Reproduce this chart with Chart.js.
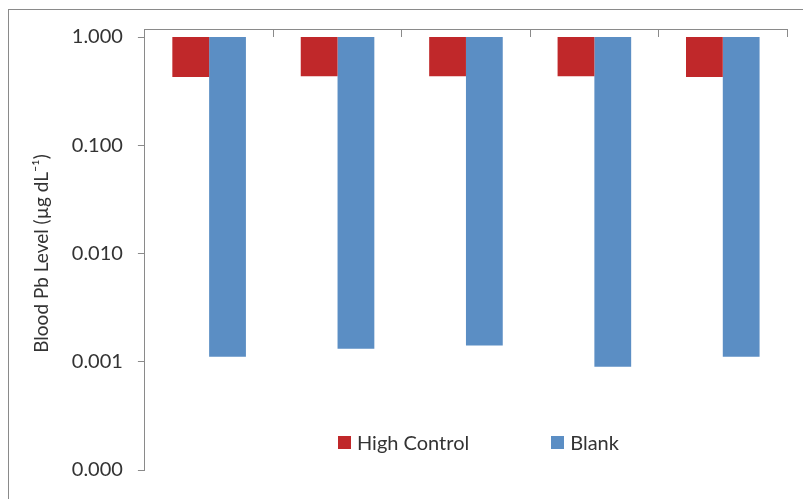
<!DOCTYPE html>
<html>
<head>
<meta charset="utf-8">
<script src="https://cdn.jsdelivr.net/npm/chart.js@4/dist/chart.umd.min.js"></script>
<style>
  html, body { margin: 0; padding: 0; background: #fff; overflow: hidden; }
  #wrap { position: relative; width: 803px; height: 499px; }
  #frame { position: absolute; left: 8px; top: 9px; width: 820px; height: 520px; border-left: 1.5px solid #8a8a8a; border-top: 1.5px solid #8a8a8a; box-sizing: border-box; }
  #chartBox { position: absolute; left: 0; top: 0; width: 803px; height: 499px; }
  #legend { position: absolute; top: 430px; left: 338px; display: flex; font-family: Lato, "Open Sans", sans-serif; font-size: 20px; color: #333; }
  #legend .item { display: flex; align-items: center; margin-right: 82px; }
  #legend .sw { width: 13px; height: 13px; margin-right: 6px; }
</style>
</head>
<body>
<div id="wrap">
  <div id="frame"></div>
  <div id="chartBox"><canvas id="bars"></canvas></div>
  <div id="legend"></div>
</div>
<script>
const categories = ["1", "2", "3", "4", "5"];
const highControl = [0.426, 0.435, 0.435, 0.435, 0.426];
const blank = [0.00111, 0.00132, 0.00141, 0.00090, 0.00111];
const yTicks = [0.0001, 0.001, 0.01, 0.1, 1];
const yTitle = "Blood Pb Level (\u00b5g dL\u207b\u00b9)";

const RED = "#c0282a";
const BLUE = "#5b8ec4";
const AXIS = "#8a8a8a";

// bars hang down from the top of the axis (1.000)
const hang = (vals) => vals.map(v => [v, 1]);

const datasets = [
  { label: "High Control", data: hang(highControl), backgroundColor: RED },
  { label: "Blank", data: hang(blank), backgroundColor: BLUE },
];

new Chart(document.getElementById("bars"), {
  type: "bar",
  data: { labels: categories, datasets },
  options: {
    responsive: true,
    maintainAspectRatio: false,
    animation: false,
    layout: { padding: { left: 26, right: 16, top: 37, bottom: 29 } },
    datasets: { bar: { barPercentage: 1, categoryPercentage: 0.573 } },
    plugins: { legend: { display: false }, tooltip: { enabled: false } },
    scales: {
      x: {
        position: "top",
        ticks: { display: false },
        grid: { offset: true, drawOnChartArea: false, tickLength: -8, color: AXIS },
        border: { color: AXIS, width: 1 },
      },
      y: {
        type: "logarithmic",
        min: 0.0001,
        max: 1,
        afterBuildTicks: (scale) => { scale.ticks = yTicks.map(v => ({ value: v })); },
        ticks: {
          callback: (v) => Number(v).toFixed(3),
          color: "#333",
          font: { family: "Lato, 'Open Sans', sans-serif", size: 20 },
          padding: 15,
          autoSkip: false,
        },
        grid: { drawOnChartArea: false, tickLength: 7, color: AXIS },
        border: { color: AXIS, width: 1 },
        title: {
          display: true,
          text: yTitle,
          color: "#333",
          font: { family: "Lato, 'Open Sans', sans-serif", size: 19 },
          padding: { bottom: 4 },
        },
      },
    },
  },
});

document.getElementById("legend").innerHTML = datasets.map(d => `
  <div class="item"><span class="sw" style="background:${d.backgroundColor}"></span>${d.label}</div>
`).join("");
</script>
</body>
</html>
